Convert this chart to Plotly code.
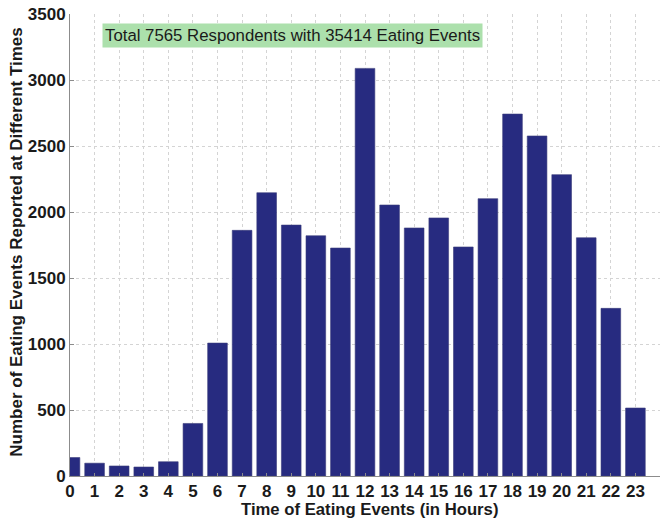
import plotly.graph_objects as go

hours = list(range(24))
hour_labels = [str(h) for h in hours]
counts = [140, 97, 76, 68, 108, 398, 1007, 1861, 2146, 1901, 1820, 1727,
          3088, 2053, 1879, 1955, 1735, 2101, 2742, 2576, 2283, 1805, 1270, 515]
y_ticks = [0, 500, 1000, 1500, 2000, 2500, 3000, 3500]

title_text = "Total 7565 Respondents with 35414 Eating Events"
x_title = "Time of Eating Events (in Hours)"
y_title = "Number of Eating Events Reported at Different Times"

fig = go.Figure(go.Bar(
    x=hours, y=counts, width=0.8,
    marker=dict(color="#272b80", line=dict(color="#3a3d7a", width=0.6)),
))

font_family = "Liberation Sans, Arial, Helvetica, sans-serif"

fig.update_layout(
    width=671, height=526,
    margin=dict(l=70, r=11, t=14, b=50),
    plot_bgcolor="white", paper_bgcolor="white",
    showlegend=False,
    font=dict(family=font_family, color="#1a1a1a"),
    xaxis=dict(
        range=[0, 24], tickmode="array", tickvals=hours, ticktext=hour_labels,
        showgrid=True, gridcolor="#d4d4d4", griddash="dot", gridwidth=1,
        showline=True, linecolor="#8c8c8c", linewidth=1,
        ticks="inside", ticklen=3, tickcolor="#8c8c8c",
        tickfont=dict(size=17, family=font_family, color="#1a1a1a", weight="bold"),
        ticklabeloverflow="allow",
        zeroline=False, automargin=False,
    ),
    yaxis=dict(
        range=[0, 3500], tickmode="array", tickvals=y_ticks,
        showgrid=True, gridcolor="#d4d4d4", griddash="dot", gridwidth=1,
        showline=True, linecolor="#8c8c8c", linewidth=1,
        ticks="inside", ticklen=4, tickcolor="#8c8c8c",
        tickfont=dict(size=17, family=font_family, color="#1a1a1a", weight="bold"),
        ticklabeloverflow="allow",
        zeroline=False, automargin=False,
    ),
    annotations=[
        dict(
            text=title_text, xref="x", yref="y", x=1.3, y=3336,
            xanchor="left", yanchor="middle", showarrow=False,
            bgcolor="#ace0ac", borderpad=2,
            font=dict(size=16.8, family=font_family, color="#1a1a1a"),
        ),
        dict(
            text="<b>" + x_title + "</b>", xref="paper", yref="paper",
            x=0.508, y=-0.0686, yshift=-2, xanchor="center", yanchor="middle", showarrow=False,
            font=dict(size=16.7, family=font_family, color="#1a1a1a"),
        ),
        dict(
            text="<b>" + y_title + "</b>", xref="paper", yref="paper",
            x=-0.0898, y=0.505, xanchor="center", yanchor="middle", showarrow=False,
            textangle=-90,
            font=dict(size=17, family=font_family, color="#1a1a1a"),
        ),
    ],
    bargap=0.2,
)

# remove the browser's default 8px body margin so the figure fills the window exactly
fig.write_html(
    "out.html",
    config={"displayModeBar": False},
    post_script="document.body.style.margin='0';document.body.style.overflow='hidden';",
)
